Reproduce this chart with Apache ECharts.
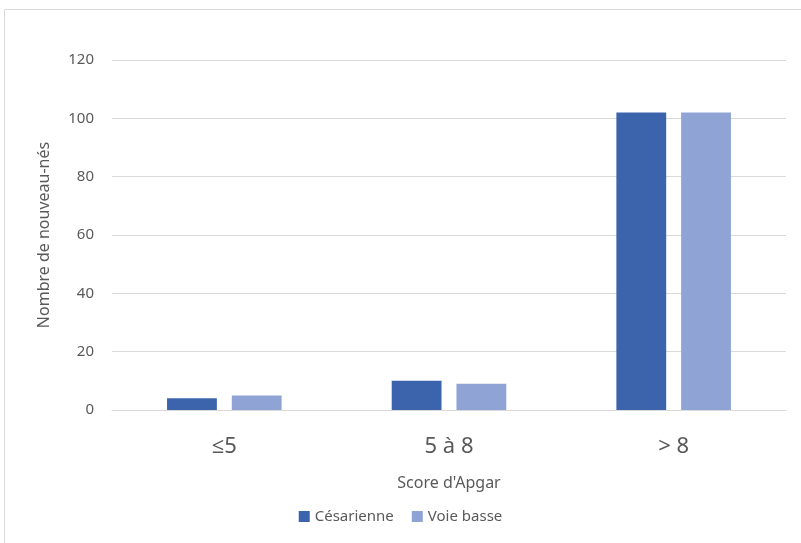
<!DOCTYPE html>
<html>
<head>
<meta charset="utf-8">
<script src="https://cdn.jsdelivr.net/npm/echarts@6/dist/echarts.min.js"></script>
<style>
  html, body { margin: 0; padding: 0; background: #fff; }
  #chart { width: 801px; height: 543px; }
</style>
</head>
<body>
<div id="chart"></div>
<script>
// Apgar score groups and newborn counts by delivery mode
const categories = ['≤5', '5 à 8', '> 8'];
const cesarienne = [4, 10, 102];
const voieBasse = [5, 9, 102];
const seriesNames = ['Césarienne', 'Voie basse'];
const yTicks = { min: 0, max: 120, interval: 20 };

const FONT = '"Noto Sans", "Open Sans", sans-serif';
const TEXT = '#595959';

const chart = echarts.init(document.getElementById('chart'), null, { renderer: 'canvas' });
chart.setOption({
  animation: false,
  backgroundColor: '#ffffff',
  textStyle: { fontFamily: FONT },
  graphic: [{
    type: 'rect',
    silent: true,
    shape: { x: 4.5, y: 9.5, width: 820, height: 560 },
    style: { fill: 'none', stroke: '#d9d9d9', lineWidth: 1 }
  }],
  grid: { left: 112, right: 15, top: 60, bottom: 133, containLabel: false },
  legend: {
    data: seriesNames,
    bottom: 14,
    left: 'center',
    itemWidth: 11,
    itemHeight: 11,
    itemGap: 18,
    icon: 'rect',
    textStyle: { color: TEXT, fontSize: 15, fontFamily: FONT }
  },
  xAxis: {
    type: 'category',
    data: categories,
    name: "Score d'Apgar",
    nameLocation: 'middle',
    nameGap: 65,
    nameTextStyle: { color: TEXT, fontSize: 16, fontFamily: FONT },
    axisLine: { lineStyle: { color: '#d9d9d9', width: 1 } },
    axisTick: { show: false },
    axisLabel: { color: TEXT, fontSize: 22, margin: 26, fontFamily: FONT }
  },
  yAxis: {
    type: 'value',
    min: yTicks.min,
    max: yTicks.max,
    interval: yTicks.interval,
    name: 'Nombre de nouveau-nés',
    nameLocation: 'middle',
    nameGap: 60,
    nameTextStyle: { color: TEXT, fontSize: 16, fontFamily: FONT },
    axisLine: { show: false },
    axisTick: { show: false },
    axisLabel: { color: TEXT, fontSize: 15, margin: 18, fontFamily: FONT },
    splitLine: { lineStyle: { color: '#d9d9d9', width: 1 } }
  },
  series: [
    {
      name: seriesNames[0],
      type: 'bar',
      data: cesarienne,
      barGap: '30%',
      barCategoryGap: '49%',
      itemStyle: { color: '#3C64AD' }
    },
    {
      name: seriesNames[1],
      type: 'bar',
      data: voieBasse,
      itemStyle: { color: '#8FA4D4' }
    }
  ]
});
</script>
</body>
</html>
